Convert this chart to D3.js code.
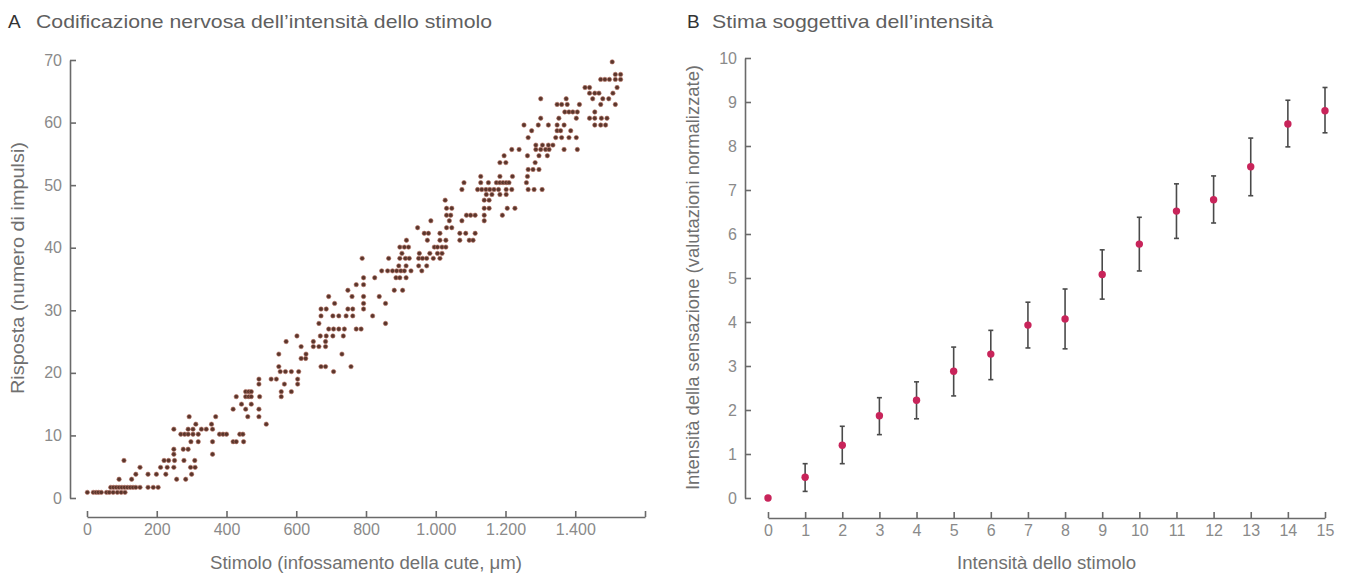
<html>
<head>
<script type="text/javascript" src="https://cdn.jsdelivr.net/npm/d3@7"></script>
<style>
  body { margin: 0; background: #fff; }
  text { font-family: "Liberation Sans", Arial, sans-serif; }
</style>
</head>
<body>
<script type="text/javascript">

// --- panel A: rows of points, [spike count, stimulus values in um]
var scatterRows = [
  [0.9,  [1,18,26,33,41,56,64,75,87,98,109]],
  [1.7,  [68,76,84,92,100,108,116,124,132,140,152,175,190,204]],
  [3.0,  [92,128,257,283]],
  [3.8,  [140,175,199,226,300]],
  [4.9,  [152,211,230,249,297,310]],
  [6.0,  [106,221,234,251,278,309]],
  [7.0,  [249,360]],
  [7.8,  [249,276,290]],
  [9.0,  [298,319,360,419,428,449]],
  [10.2, [269,280,290,304,319,380,390,400,438,447]],
  [11.0, [249,290,304,328,342,360]],
  [11.8, [312,357,514]],
  [13.0, [293,369,461,493]],
  [14.2, [419,455,493]],
  [15.0, [443,471]],
  [16.2, [428,455,464,471,495,557]],
  [17.0, [455,464,471,557,586]],
  [18.2, [493,566,604]],
  [19.0, [493,528,543,604]],
  [20.2, [554,569,586,607,707]],
  [21.0, [550,671,684,757]],
  [22.3, [614,627]],
  [23.0, [550,628,731]],
  [24.2, [614,649,665,684]],
  [25.0, [571,649,684]],
  [25.9, [602,669,686,705,735]],
  [27.0, [693,707,722,738,772,786]],
  [27.9, [665,856]],
  [29.1, [671,705,722,743,762,819]],
  [30.2, [671,686,748,762,793]],
  [31.1, [710,793,856]],
  [32.2, [693,760,793,838]],
  [33.2, [748,881,905]],
  [34.1, [772,793]],
  [35.2, [793,825,886,897,915]],
  [36.3, [845,862,876,888,900,910,929,960]],
  [37.1, [894,915,951,974]],
  [38.3, [789,865,897,913,924,951,962,974,993,1012]],
  [39.1, [903,953,983,1005,1018]],
  [40.1, [897,910,922,996,1005,1018,1029]],
  [41.2, [916,976,1012,1029,1069,1096,1107]],
  [42.3, [967,979,1012,1069,1086,1113]],
  [43.2, [948,1031,1046]],
  [44.3, [986,1039,1075,1139]],
  [45.2, [1031,1043,1088,1100,1113,1139,1191]],
  [46.3, [1031,1046,1139,1153,1205,1227]],
  [47.6, [1027,1139,1153]],
  [48.5, [1145,1161,1184,1202]],
  [49.3, [1075,1120,1132,1144,1155,1167,1180,1202,1218,1265,1282,1305]],
  [50.4, [1081,1129,1151,1174,1184,1193,1202,1210,1260]],
  [51.4, [1129,1184,1220,1263]],
  [52.5, [1265,1279,1296]],
  [53.6, [1184,1201,1285]],
  [54.7, [1196,1263,1296,1320]],
  [55.7, [1218,1239,1287,1301,1315,1325,1368,1406]],
  [56.4, [1287,1306,1323,1336]],
  [57.6, [1265,1344,1361,1382,1403]],
  [58.7, [1275,1348,1358,1387]],
  [59.6, [1253,1294,1323,1348,1368,1456,1473,1487]],
  [60.7, [1301,1353,1403,1441,1456,1475,1491]],
  [61.7, [1370,1382,1393,1406,1456]],
  [62.9, [1348,1361,1377,1412,1473,1515]],
  [63.8, [1301,1374,1450,1479,1496]],
  [64.7, [1441,1456,1468,1508]],
  [65.6, [1428,1441,1520]],
  [66.9, [1473,1485,1498,1515,1530]],
  [67.7, [1515,1530]],
  [69.7, [1506]]
];
var stimTicks = [0,200,400,600,800,1000,1200,1400];
var spikeTicks = [0,10,20,30,40,50,60,70];

// --- panel B: mean rating with error bar per stimulus level
var levels = [0,1,2,3,4,5,6,7,8,9,10,11,12,13,14,15];
var means  = [0,0.47,1.2,1.87,2.22,2.88,3.27,3.93,4.07,5.08,5.77,6.52,6.78,7.53,8.5,8.8];
var lows   = [0,0.15,0.78,1.44,1.8,2.32,2.69,3.41,3.39,4.52,5.16,5.9,6.25,6.87,7.98,8.3];
var highs  = [0,0.78,1.63,2.28,2.64,3.43,3.81,4.45,4.75,5.64,6.38,7.14,7.32,8.18,9.04,9.33];
var ratingTicks = [0,1,2,3,4,5,6,7,8,9,10];

var W = 1347, H = 578;
var axisColor = '#6a6a6a', tickColor = '#8a8a8a', labelColor = '#707070';

var svg = d3.select('body').append('svg')
  .attr('width', W).attr('height', H);

var itNum = d3.formatLocale({decimal: ',', thousands: '.', grouping: [3], currency: ['', '€']}).format(',d');

function styleAxis(g){
  g.select('.domain').attr('stroke', axisColor).attr('stroke-width', 1.6);
  g.selectAll('.tick line').attr('stroke', axisColor).attr('stroke-width', 1.6);
  g.selectAll('.tick text').attr('fill', tickColor).style('font-size', '16px');
}

// text helper, stretched to the width it has in the picture
function label(x, y, txt, size, len, color, rotate){
  var t = svg.append('text')
    .attr('transform', 'translate(' + x + ',' + y + ')' + (rotate ? ' rotate(-90)' : ''))
    .style('font-size', size + 'px').attr('fill', color).text(txt);
  if (len) t.attr('textLength', len).attr('lengthAdjust', 'spacingAndGlyphs');
  return t;
}

// ---------- panel A ----------
var xA = d3.scaleLinear().domain([0,1600]).range([87,645]);
var yA = d3.scaleLinear().domain([0,70]).range([498,60]);

svg.append('g').attr('transform','translate(0,517)')
  .call(d3.axisTop(xA).tickValues(stimTicks.concat([1600])).tickSize(6).tickSizeOuter(0).tickFormat(''))
  .call(styleAxis);
svg.append('g').attr('transform','translate(0,517)')
  .call(d3.axisBottom(xA).tickValues(stimTicks).tickSize(0).tickPadding(7).tickFormat(itNum))
  .call(function(g){ g.select('.domain').remove(); styleAxis(g); });

svg.append('g').attr('transform','translate(70,0)')
  .call(d3.axisRight(yA).tickValues(spikeTicks).tickSize(6).tickSizeOuter(0).tickFormat(''))
  .call(styleAxis);
svg.append('g').attr('transform','translate(70,0)')
  .call(d3.axisLeft(yA).tickValues(spikeTicks).tickSize(0).tickPadding(8))
  .call(function(g){ g.select('.domain').remove(); styleAxis(g); });

var pts = [];
scatterRows.forEach(function(r){
  r[1].forEach(function(s){ pts.push({x: s, y: r[0]}); });
});
svg.append('g').selectAll('circle').data(pts).enter().append('circle')
  .attr('cx', function(d){ return xA(d.x); })
  .attr('cy', function(d){ return yA(d.y); })
  .attr('r', 2.2)
  .attr('fill', '#5a362c')
  .attr('stroke', '#b87464').attr('stroke-width', 0.6);

label(8, 28, 'A', 19, null, '#333');
label(36, 28, 'Codificazione nervosa dell\u2019intensità dello stimolo', 19, 456, '#5f5f5f');
label(210, 569, 'Stimolo (infossamento della cute, \u03bcm)', 17.5, 312, labelColor);
label(24, 394, 'Risposta (numero di impulsi)', 17.5, 252, labelColor, true);

// ---------- panel B ----------
var xB = d3.scaleLinear().domain([0,15]).range([768,1325]);
var yB = d3.scaleLinear().domain([0,10]).range([498,58]);

svg.append('g').attr('transform','translate(0,518)')
  .call(d3.axisTop(xB).tickValues(levels).tickSize(6).tickSizeOuter(0).tickFormat(''))
  .call(styleAxis);
svg.append('g').attr('transform','translate(0,518)')
  .call(d3.axisBottom(xB).tickValues(levels).tickSize(0).tickPadding(7))
  .call(function(g){ g.select('.domain').remove(); styleAxis(g); });

svg.append('g').attr('transform','translate(745,0)')
  .call(d3.axisRight(yB).tickValues(ratingTicks).tickSize(6).tickSizeOuter(0).tickFormat(''))
  .call(styleAxis);
svg.append('g').attr('transform','translate(745,0)')
  .call(d3.axisLeft(yB).tickValues(ratingTicks).tickSize(0).tickPadding(8))
  .call(function(g){ g.select('.domain').remove(); styleAxis(g); });

var rows = levels.map(function(l, i){ return {x: l, m: means[i], lo: lows[i], hi: highs[i]}; });
var bars = svg.append('g').selectAll('g').data(rows.filter(function(d){ return d.hi > d.lo; }))
  .enter().append('g').attr('stroke', '#4a4a4a').attr('stroke-width', 1.6);
bars.append('line')
  .attr('x1', function(d){ return xB(d.x); }).attr('x2', function(d){ return xB(d.x); })
  .attr('y1', function(d){ return yB(d.lo); }).attr('y2', function(d){ return yB(d.hi); });
bars.append('line')
  .attr('x1', function(d){ return xB(d.x) - 2.5; }).attr('x2', function(d){ return xB(d.x) + 2.5; })
  .attr('y1', function(d){ return yB(d.hi); }).attr('y2', function(d){ return yB(d.hi); });
bars.append('line')
  .attr('x1', function(d){ return xB(d.x) - 2.5; }).attr('x2', function(d){ return xB(d.x) + 2.5; })
  .attr('y1', function(d){ return yB(d.lo); }).attr('y2', function(d){ return yB(d.lo); });

svg.append('g').selectAll('circle').data(rows).enter().append('circle')
  .attr('cx', function(d){ return xB(d.x); })
  .attr('cy', function(d){ return yB(d.m); })
  .attr('r', 3.7)
  .attr('fill', '#c8245a');

label(687, 28, 'B', 19, null, '#333');
label(712, 28, 'Stima soggettiva dell\u2019intensità', 19, 281, '#5f5f5f');
label(957, 569, 'Intensità dello stimolo', 17.5, 179, labelColor);
label(699, 490, 'Intensità della sensazione (valutazioni normalizzate)', 17.5, 425, labelColor, true);

</script>
</body>
</html>
